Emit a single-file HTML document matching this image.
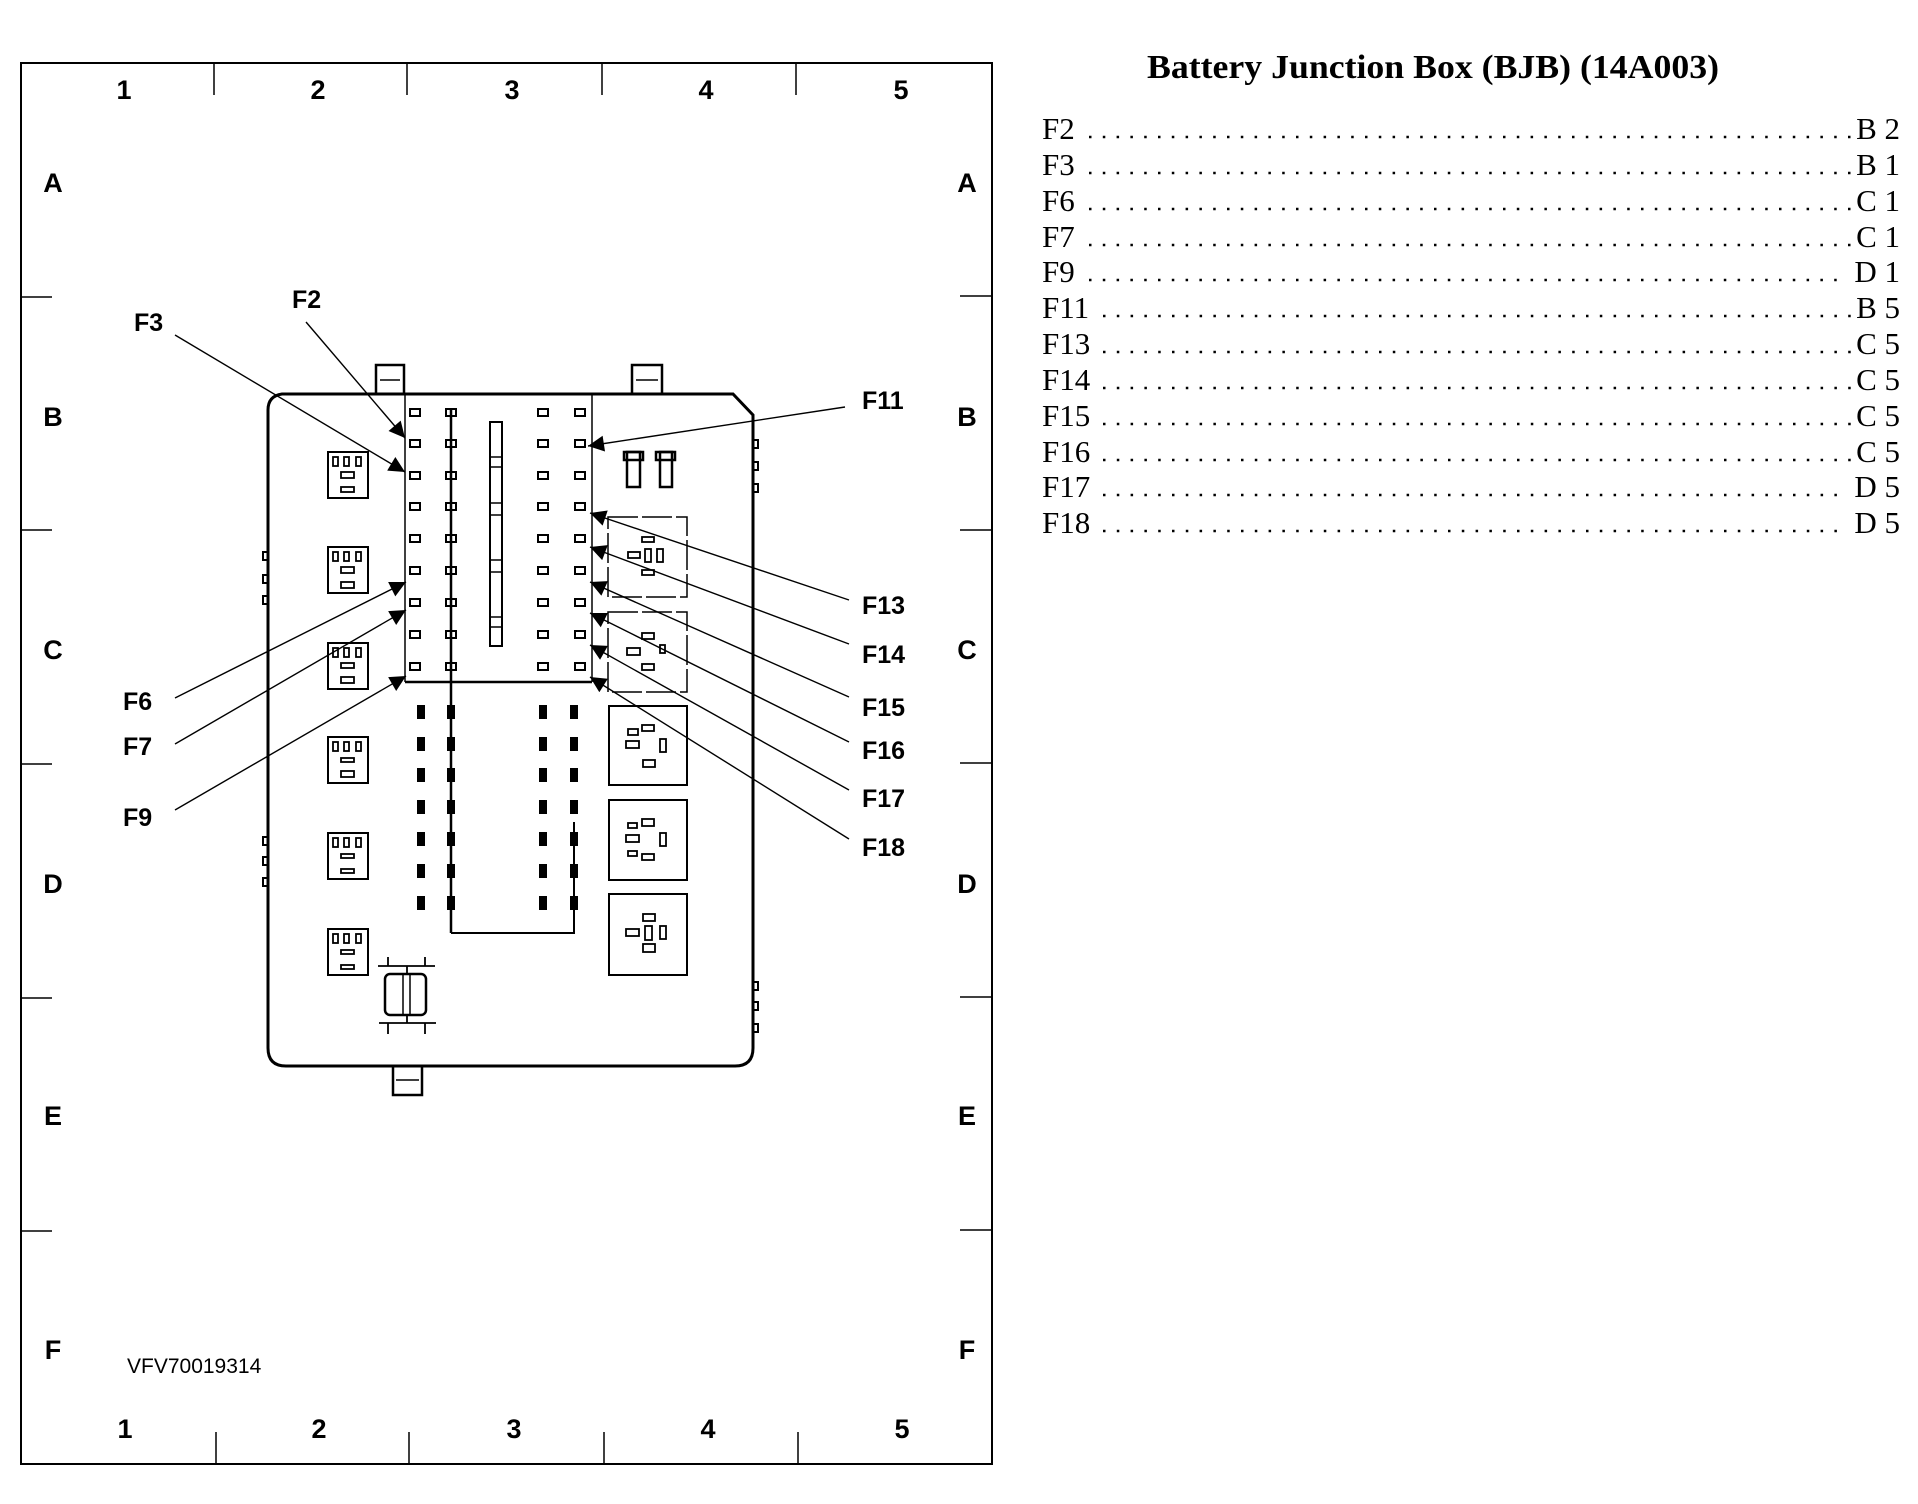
<!DOCTYPE html>
<html><head><meta charset="utf-8"><style>html,body{margin:0;padding:0;background:#fff}svg{display:block}</style></head>
<body>
<svg width="1918" height="1504" viewBox="0 0 1918 1504" xmlns="http://www.w3.org/2000/svg">
<defs>
<marker id="ah" viewBox="0 0 10 10" refX="10" refY="5" markerWidth="24" markerHeight="16" markerUnits="userSpaceOnUse" orient="auto">
<path d="M0,0 L10,5 L0,10 Z" fill="#000"/></marker>
</defs>
<g fill="none" stroke="#000">
<rect x="21" y="63" width="971" height="1401" stroke-width="2"/>
<g stroke-width="1.5">
<line x1="214" y1="63" x2="214" y2="95"/><line x1="407" y1="63" x2="407" y2="95"/><line x1="602" y1="63" x2="602" y2="95"/><line x1="796" y1="63" x2="796" y2="95"/>
<line x1="216" y1="1432" x2="216" y2="1464"/><line x1="409" y1="1432" x2="409" y2="1464"/><line x1="604" y1="1432" x2="604" y2="1464"/><line x1="798" y1="1432" x2="798" y2="1464"/>
<line x1="21" y1="297" x2="52" y2="297"/><line x1="21" y1="530" x2="52" y2="530"/><line x1="21" y1="764" x2="52" y2="764"/><line x1="21" y1="998" x2="52" y2="998"/><line x1="21" y1="1231" x2="52" y2="1231"/>
<line x1="960" y1="296" x2="992" y2="296"/><line x1="960" y1="530" x2="992" y2="530"/><line x1="960" y1="763" x2="992" y2="763"/><line x1="960" y1="997" x2="992" y2="997"/><line x1="960" y1="1230" x2="992" y2="1230"/>
</g>
<path d="M282,394 L733,394 L753,415 L753,1048 Q753,1066 735,1066 L286,1066 Q268,1066 268,1048 L268,410 Q268,396 282,394 Z" stroke-width="3"/>
<rect x="376" y="365" width="28" height="29" stroke-width="2.5"/><line x1="380" y1="380" x2="400" y2="380" stroke-width="1.5"/>
<rect x="632" y="365" width="30" height="29" stroke-width="2.5"/><line x1="636" y1="380" x2="658" y2="380" stroke-width="1.5"/>
<rect x="393" y="1066" width="29" height="29" stroke-width="2.5"/><line x1="396" y1="1080" x2="419" y2="1080" stroke-width="1.5"/>
<g stroke-width="2"><rect x="263" y="552" width="5" height="8"/><rect x="263" y="575" width="5" height="8"/><rect x="263" y="596" width="5" height="8"/>
<rect x="263" y="837" width="5" height="8"/><rect x="263" y="857" width="5" height="8"/><rect x="263" y="878" width="5" height="8"/>
<rect x="753" y="440" width="5" height="8"/><rect x="753" y="462" width="5" height="8"/><rect x="753" y="484" width="5" height="8"/>
<rect x="753" y="982" width="5" height="8"/><rect x="753" y="1002" width="5" height="8"/><rect x="753" y="1024" width="5" height="8"/></g>
<line x1="405" y1="394" x2="405" y2="682" stroke-width="1.5"/>
<line x1="592" y1="394" x2="592" y2="682" stroke-width="1.5"/>
<line x1="405" y1="682" x2="592" y2="682" stroke-width="2.5"/>
<line x1="451" y1="408" x2="451" y2="933" stroke-width="2.5"/>
<path d="M451,933 L574,933 L574,822" stroke-width="2"/>
<rect x="490" y="422" width="12" height="224" stroke-width="2"/>
<g stroke-width="1.5"><line x1="490" y1="457" x2="502" y2="457"/><line x1="490" y1="467" x2="502" y2="467"/><line x1="490" y1="503" x2="502" y2="503"/><line x1="490" y1="515" x2="502" y2="515"/><line x1="490" y1="560" x2="502" y2="560"/><line x1="490" y1="572" x2="502" y2="572"/><line x1="490" y1="617" x2="502" y2="617"/><line x1="490" y1="627" x2="502" y2="627"/></g>
<g stroke-width="2">
<rect x="410" y="409" width="10" height="7"/><rect x="446" y="409" width="10" height="7"/><rect x="538" y="409" width="10" height="7"/><rect x="575" y="409" width="10" height="7"/>
<rect x="410" y="440" width="10" height="7"/><rect x="446" y="440" width="10" height="7"/><rect x="538" y="440" width="10" height="7"/><rect x="575" y="440" width="10" height="7"/>
<rect x="410" y="472" width="10" height="7"/><rect x="446" y="472" width="10" height="7"/><rect x="538" y="472" width="10" height="7"/><rect x="575" y="472" width="10" height="7"/>
<rect x="410" y="503" width="10" height="7"/><rect x="446" y="503" width="10" height="7"/><rect x="538" y="503" width="10" height="7"/><rect x="575" y="503" width="10" height="7"/>
<rect x="410" y="535" width="10" height="7"/><rect x="446" y="535" width="10" height="7"/><rect x="538" y="535" width="10" height="7"/><rect x="575" y="535" width="10" height="7"/>
<rect x="410" y="567" width="10" height="7"/><rect x="446" y="567" width="10" height="7"/><rect x="538" y="567" width="10" height="7"/><rect x="575" y="567" width="10" height="7"/>
<rect x="410" y="599" width="10" height="7"/><rect x="446" y="599" width="10" height="7"/><rect x="538" y="599" width="10" height="7"/><rect x="575" y="599" width="10" height="7"/>
<rect x="410" y="631" width="10" height="7"/><rect x="446" y="631" width="10" height="7"/><rect x="538" y="631" width="10" height="7"/><rect x="575" y="631" width="10" height="7"/>
<rect x="410" y="663" width="10" height="7"/><rect x="446" y="663" width="10" height="7"/><rect x="538" y="663" width="10" height="7"/><rect x="575" y="663" width="10" height="7"/>
</g>
<g stroke-width="2">
<rect x="328" y="452" width="40" height="46"/><rect x="328" y="547" width="40" height="46"/><rect x="328" y="643" width="40" height="46"/>
<rect x="328" y="737" width="40" height="46"/><rect x="328" y="833" width="40" height="46"/><rect x="328" y="929" width="40" height="46"/>
</g>
<g stroke-width="1.8">
<rect x="333" y="457" width="5" height="9"/><rect x="344" y="457" width="5" height="9"/><rect x="356" y="457" width="5" height="9"/><rect x="341" y="472" width="13" height="6"/><rect x="341" y="487" width="13" height="5"/>
<rect x="333" y="552" width="5" height="9"/><rect x="344" y="552" width="5" height="9"/><rect x="356" y="552" width="5" height="9"/><rect x="341" y="567" width="13" height="6"/><rect x="341" y="582" width="13" height="6"/>
<rect x="333" y="648" width="5" height="9"/><rect x="344" y="648" width="5" height="9"/><rect x="356" y="648" width="5" height="9"/><rect x="341" y="663" width="13" height="5"/><rect x="341" y="677" width="13" height="6"/>
<rect x="333" y="742" width="5" height="9"/><rect x="344" y="742" width="5" height="9"/><rect x="356" y="742" width="5" height="9"/><rect x="341" y="758" width="13" height="4"/><rect x="341" y="771" width="13" height="6"/>
<rect x="333" y="838" width="5" height="9"/><rect x="344" y="838" width="5" height="9"/><rect x="356" y="838" width="5" height="9"/><rect x="341" y="854" width="13" height="4"/><rect x="341" y="869" width="13" height="4"/>
<rect x="333" y="934" width="5" height="9"/><rect x="344" y="934" width="5" height="9"/><rect x="356" y="934" width="5" height="9"/><rect x="341" y="950" width="13" height="4"/><rect x="341" y="965" width="13" height="4"/>
</g>
<g stroke-width="1.5" stroke-dasharray="30 4"><rect x="608" y="517" width="79" height="80"/><rect x="608" y="612" width="79" height="80"/></g>
<g stroke-width="2"><rect x="609" y="706" width="78" height="79"/><rect x="609" y="800" width="78" height="80"/><rect x="609" y="894" width="78" height="81"/></g>
<g stroke-width="1.8">
<rect x="628" y="552" width="12" height="6"/><rect x="645" y="549" width="6" height="13"/><rect x="657" y="549" width="6" height="13"/><rect x="642" y="537" width="12" height="5"/><rect x="642" y="570" width="12" height="5"/>
<rect x="627" y="648" width="13" height="7"/><rect x="642" y="633" width="12" height="6"/><rect x="660" y="645" width="5" height="8"/><rect x="642" y="664" width="12" height="6"/>
<rect x="628" y="729" width="10" height="6"/><rect x="642" y="725" width="12" height="6"/><rect x="626" y="741" width="13" height="7"/><rect x="660" y="739" width="6" height="13"/><rect x="643" y="760" width="12" height="7"/>
<rect x="628" y="823" width="9" height="5"/><rect x="642" y="819" width="12" height="7"/><rect x="626" y="835" width="13" height="7"/><rect x="660" y="833" width="6" height="13"/><rect x="628" y="851" width="9" height="5"/><rect x="642" y="854" width="12" height="6"/>
<rect x="643" y="914" width="12" height="7"/><rect x="626" y="929" width="13" height="7"/><rect x="645" y="926" width="7" height="14"/><rect x="660" y="926" width="6" height="13"/><rect x="643" y="944" width="12" height="8"/>
</g>
<g stroke-width="2.5"><rect x="627" y="452" width="13" height="35"/><rect x="660" y="452" width="12" height="35"/><rect x="624" y="452" width="19" height="8"/><rect x="656" y="452" width="19" height="8"/></g>
<g stroke-width="1.8"><line x1="378" y1="966" x2="435" y2="966"/><line x1="388" y1="957" x2="388" y2="966"/><line x1="425" y1="957" x2="425" y2="966"/>
<line x1="379" y1="1023" x2="436" y2="1023"/><line x1="388" y1="1023" x2="388" y2="1034"/><line x1="425" y1="1023" x2="425" y2="1034"/>
<line x1="407" y1="966" x2="407" y2="974"/><line x1="407" y1="1015" x2="407" y2="1023"/></g>
<rect x="385" y="974" width="41" height="41" rx="5" stroke-width="2.5"/><line x1="403" y1="974" x2="403" y2="1015" stroke-width="1.5"/><line x1="410" y1="974" x2="410" y2="1015" stroke-width="1.5"/>
</g>
<g fill="#000">
<rect x="417" y="705" width="8" height="14"/><rect x="447" y="705" width="8" height="14"/><rect x="539" y="705" width="8" height="14"/><rect x="570" y="705" width="8" height="14"/>
<rect x="417" y="737" width="8" height="14"/><rect x="447" y="737" width="8" height="14"/><rect x="539" y="737" width="8" height="14"/><rect x="570" y="737" width="8" height="14"/>
<rect x="417" y="768" width="8" height="14"/><rect x="447" y="768" width="8" height="14"/><rect x="539" y="768" width="8" height="14"/><rect x="570" y="768" width="8" height="14"/>
<rect x="417" y="800" width="8" height="14"/><rect x="447" y="800" width="8" height="14"/><rect x="539" y="800" width="8" height="14"/><rect x="570" y="800" width="8" height="14"/>
<rect x="417" y="832" width="8" height="14"/><rect x="447" y="832" width="8" height="14"/><rect x="539" y="832" width="8" height="14"/><rect x="570" y="832" width="8" height="14"/>
<rect x="417" y="864" width="8" height="14"/><rect x="447" y="864" width="8" height="14"/><rect x="539" y="864" width="8" height="14"/><rect x="570" y="864" width="8" height="14"/>
<rect x="417" y="896" width="8" height="14"/><rect x="447" y="896" width="8" height="14"/><rect x="539" y="896" width="8" height="14"/><rect x="570" y="896" width="8" height="14"/>
</g>
<g stroke="#000" stroke-width="1.4" marker-end="url(#ah)">
<line x1="306" y1="322" x2="405" y2="438"/>
<line x1="175" y1="335" x2="405" y2="472"/>
<line x1="845" y1="407" x2="588" y2="446"/>
<line x1="849" y1="600" x2="590" y2="513"/>
<line x1="849" y1="644" x2="590" y2="547"/>
<line x1="849" y1="697" x2="590" y2="582"/>
<line x1="849" y1="742" x2="590" y2="613"/>
<line x1="849" y1="790" x2="590" y2="645"/>
<line x1="849" y1="839" x2="590" y2="677"/>
<line x1="175" y1="698" x2="406" y2="582"/>
<line x1="175" y1="744" x2="406" y2="610"/>
<line x1="175" y1="810" x2="406" y2="676"/>
</g>
<g font-family="'Liberation Sans',sans-serif" font-weight="bold" font-size="27" fill="#000" text-anchor="middle">
<text x="124" y="99">1</text><text x="318" y="99">2</text><text x="512" y="99">3</text><text x="706" y="99">4</text><text x="901" y="99">5</text>
<text x="125" y="1438">1</text><text x="319" y="1438">2</text><text x="514" y="1438">3</text><text x="708" y="1438">4</text><text x="902" y="1438">5</text>
<text x="53" y="192">A</text><text x="53" y="426">B</text><text x="53" y="659">C</text><text x="53" y="893">D</text><text x="53" y="1125">E</text><text x="53" y="1359">F</text>
<text x="967" y="192">A</text><text x="967" y="426">B</text><text x="967" y="659">C</text><text x="967" y="893">D</text><text x="967" y="1125">E</text><text x="967" y="1359">F</text>
</g>
<g font-family="'Liberation Sans',sans-serif" font-weight="bold" font-size="25" fill="#000">
<text x="292" y="308">F2</text><text x="134" y="331">F3</text>
<text x="862" y="409">F11</text><text x="862" y="614">F13</text><text x="862" y="663">F14</text><text x="862" y="716">F15</text><text x="862" y="759">F16</text><text x="862" y="807">F17</text><text x="862" y="856">F18</text>
<text x="123" y="710">F6</text><text x="123" y="755">F7</text><text x="123" y="826">F9</text>
</g>
<text x="127" y="1373" font-family="'Liberation Sans',sans-serif" font-size="21" fill="#000">VFV70019314</text>
<text x="1147" y="78" font-family="'Liberation Serif',serif" font-weight="bold" font-size="34" textLength="572" lengthAdjust="spacingAndGlyphs" fill="#000">Battery Junction Box (BJB) (14A003)</text>
<g font-family="'Liberation Serif',serif" font-size="31" fill="#000">
<text x="1042" y="139">F2</text><text x="1042" y="175">F3</text><text x="1042" y="211">F6</text><text x="1042" y="247">F7</text><text x="1042" y="282">F9</text><text x="1042" y="318">F11</text>
<text x="1042" y="354">F13</text><text x="1042" y="390">F14</text><text x="1042" y="426">F15</text><text x="1042" y="462">F16</text><text x="1042" y="497">F17</text><text x="1042" y="533">F18</text>
<g text-anchor="end">
<text x="1900" y="139">B 2</text><text x="1900" y="175">B 1</text><text x="1900" y="211">C 1</text><text x="1900" y="247">C 1</text><text x="1900" y="282">D 1</text><text x="1900" y="318">B 5</text>
<text x="1900" y="354">C 5</text><text x="1900" y="390">C 5</text><text x="1900" y="426">C 5</text><text x="1900" y="462">C 5</text><text x="1900" y="497">D 5</text><text x="1900" y="533">D 5</text>
</g></g>
<g stroke="#000" stroke-width="2.5" stroke-dasharray="2.5 11.3">
<line x1="1089" y1="137" x2="1852" y2="137"/><line x1="1089" y1="173" x2="1852" y2="173"/><line x1="1089" y1="209" x2="1852" y2="209"/><line x1="1089" y1="245" x2="1852" y2="245"/><line x1="1089" y1="280" x2="1840" y2="280"/>
<line x1="1103" y1="316" x2="1852" y2="316"/><line x1="1103" y1="352" x2="1852" y2="352"/><line x1="1103" y1="388" x2="1852" y2="388"/><line x1="1103" y1="424" x2="1852" y2="424"/><line x1="1103" y1="460" x2="1852" y2="460"/><line x1="1103" y1="495" x2="1840" y2="495"/><line x1="1103" y1="531" x2="1840" y2="531"/>
</g>
</svg>
</body></html>
